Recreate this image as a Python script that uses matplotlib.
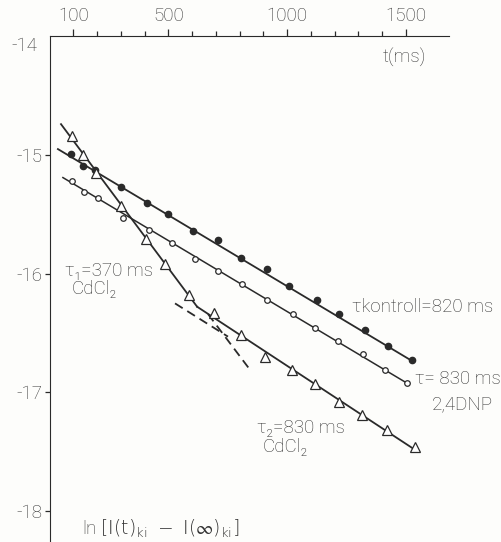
import numpy as np
import matplotlib.pyplot as plt
from matplotlib.ticker import FixedLocator

plt.rcParams['font.family'] = ['Roboto', 'DejaVu Sans']
plt.rcParams['font.weight'] = 'light'
plt.rcParams['axes.unicode_minus'] = False

ink = '#2a2a2a'

# tiempos (ms) y ln-valores
t_kontroll = [90, 141, 191, 301, 410, 499, 604, 709, 806, 915, 1008, 1126, 1218, 1328, 1425, 1526]
ln_kontroll = [-14.99, -15.09, -15.13, -15.27, -15.40, -15.50, -15.64, -15.72,
               -15.87, -15.96, -16.10, -16.22, -16.34, -16.47, -16.61, -16.73]

t_dnp = [93, 146, 205, 311, 419, 514, 610, 709, 811, 915, 1024, 1117, 1216, 1318, 1414, 1504]
ln_dnp = [-15.22, -15.31, -15.36, -15.53, -15.63, -15.74, -15.88, -15.98,
          -16.09, -16.22, -16.34, -16.46, -16.57, -16.68, -16.81, -16.92]

t_cd = [93, 142, 195, 302, 405, 484, 588, 692, 806, 907, 1021, 1117, 1218, 1314, 1419, 1538]
ln_cd = [-14.84, -15.00, -15.15, -15.43, -15.71, -15.92, -16.18, -16.33,
         -16.52, -16.70, -16.81, -16.93, -17.08, -17.19, -17.32, -17.46]

# rectas ajustadas (extremos)
fit_kontroll_t = [35, 1526]
fit_kontroll_ln = [-14.95, -16.735]
fit_dnp_t = [56, 1503]
fit_dnp_ln = [-15.19, -16.92]
fit_tau1_t = [48, 621]
fit_tau1_ln = [-14.74, -16.278]
fit_tau2_t = [621, 1538]
fit_tau2_ln = [-16.278, -17.483]
dash1_t = [528, 751]
dash1_ln = [-16.25, -16.53]
dash2_t = [667, 844]
dash2_ln = [-16.34, -16.81]

major_ticks = [100, 500, 1000, 1500]
minor_ticks = [200, 300, 400, 600, 700, 800, 900, 1100, 1200, 1300, 1400]
y_ticks = [-15, -16, -17, -18]

fig = plt.figure(figsize=(5.01, 5.42), dpi=100)
fig.patch.set_facecolor('#fdfdfb')
ax = fig.add_axes([0.099, 0.0, 0.798, 0.933])
ax.set_facecolor('#fdfdfb')

ax.plot(fit_kontroll_t, fit_kontroll_ln, color=ink, lw=1.3)
ax.plot(fit_dnp_t, fit_dnp_ln, color=ink, lw=1.1)
ax.plot(fit_tau1_t, fit_tau1_ln, color=ink, lw=1.3)
ax.plot(fit_tau2_t, fit_tau2_ln, color=ink, lw=1.3)
ax.plot(dash1_t, dash1_ln, color=ink, lw=1.3, ls=(0, (5, 3)))
ax.plot(dash2_t, dash2_ln, color=ink, lw=1.3, ls=(0, (5, 3)))

ax.plot(t_kontroll, ln_kontroll, 'o', ms=4.5, color=ink, mfc=ink, ls='none', zorder=3)
ax.plot(t_dnp, ln_dnp, 'o', ms=4.0, color=ink, mfc='white', mew=0.9, ls='none', zorder=3)
ax.plot(t_cd, ln_cd, '^', ms=6.5, color=ink, mfc='white', mew=0.9, ls='none', zorder=3)

ax.set_xlim(0, 1683)
ax.set_ylim(-18.26, -14.0)

ax.spines['right'].set_visible(False)
ax.spines['bottom'].set_visible(False)
ax.spines['top'].set_color(ink)
ax.spines['left'].set_color(ink)

ax.xaxis.tick_top()
ax.xaxis.set_major_locator(FixedLocator(major_ticks))
ax.xaxis.set_minor_locator(FixedLocator(minor_ticks))
ax.set_xticklabels([str(v) for v in major_ticks])
ax.tick_params(axis='x', which='major', direction='out', length=5, width=0.9,
               colors=ink, labelsize=13.5, pad=3)
ax.tick_params(axis='x', which='minor', direction='out', length=3.5, width=0.9, colors=ink)

ax.set_yticks(y_ticks)
ax.set_yticklabels([str(v) for v in y_ticks])
ax.tick_params(axis='y', direction='out', length=3.5, width=0.9, colors=ink,
               labelsize=13.5, pad=2)

txt = dict(color='#333333', fontsize=13.5)
ax.text(-0.03, -14.083, '-14', transform=ax.get_yaxis_transform(),
        ha='right', va='center', **txt)
ax.text(1404, -14.18, 't(ms)', ha='left', va='center', **txt)
ax.text(65, -15.98, 'τ₁=370 ms', ha='left', va='center', **txt)
ax.text(94, -16.13, 'CdCl₂', ha='left', va='center', **txt)
ax.text(1274, -16.28, 'τkontroll=820 ms', ha='left', va='center', **txt)
ax.text(1539, -16.89, 'τ= 830 ms', ha='left', va='center', **txt)
ax.text(1610, -17.10, '2,4DNP', ha='left', va='center', **txt)
ax.text(873, -17.30, 'τ₂=830 ms', ha='left', va='center', **txt)
ax.text(895, -17.46, 'CdCl₂', ha='left', va='center', **txt)
ax.text(137, -18.15, r'ln $\left[\mathrm{I(t)_{ki}}\ -\ \mathrm{I(\infty)_{ki}}\right]$',
        ha='left', va='center', **txt)

for lab in ax.get_xticklabels() + ax.get_yticklabels():
    lab.set_color('#333333')

fig.savefig('out.png', dpi=100, facecolor=fig.get_facecolor())
